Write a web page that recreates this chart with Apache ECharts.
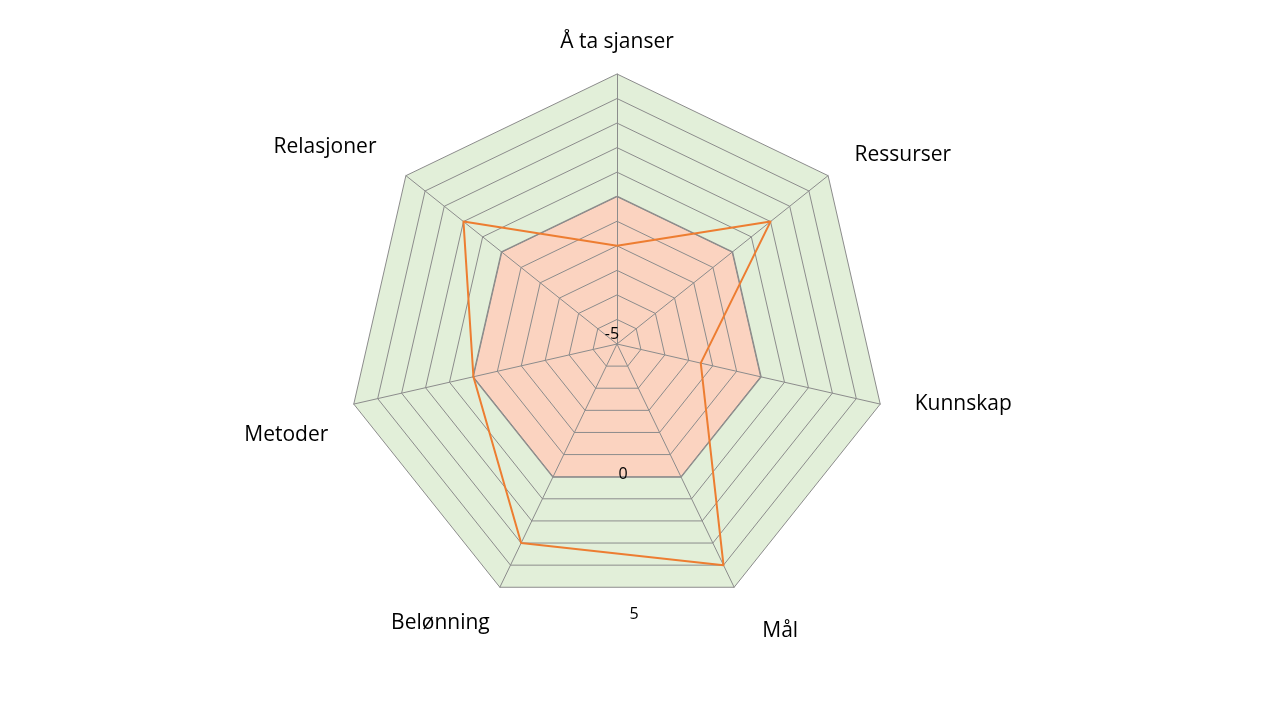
<!DOCTYPE html>
<html>
<head>
<meta charset="utf-8">
<script src="https://cdn.jsdelivr.net/npm/echarts@6/dist/echarts.min.js"></script>
<style>
html,body{margin:0;padding:0;background:#fff;}
#chart{width:1280px;height:720px;}
</style>
</head>
<body>
<div id="chart"></div>
<script>
// Categories in the reference's clockwise order, starting at the top
const categories = ['Å ta sjanser', 'Ressurser', 'Kunnskap', 'Mål', 'Belønning', 'Metoder', 'Relasjoner'];
// Orange line series
const scores = [-2, 2, -2.5, 4, 3, 0, 2];
// Filled zero-level series (salmon area with grey border)
const zeroLevel = [0, 0, 0, 0, 0, 0, 0];
// Outer filled band (green)
const outerLevel = [5, 5, 5, 5, 5, 5, 5];
// Axis scale
const axisMin = -6;
const axisMax = 5;
const tickLabels = [-5, 0, 5];

// Label nudges (style only), same order as categories: [top, right, bottom, left] padding
const namePadding = [
  [0, 0, 0, 0],
  [0, 0, 16, 10],
  [0, 0, 9, 14],
  [49, 0, 0, 19],
  [33, 1, 0, 0],
  [53, 5, 0, 0],
  [0, 13, 32, 0]
];

// ECharts radar runs counter-clockwise; reorder so the picture reads clockwise
const order = [0].concat(categories.map((_, i) => i).slice(1).reverse());
const pick = arr => order.map(i => arr[i]);

const FONT = 'Open Sans';
const rich = {};
categories.forEach((c, i) => {
  rich['n' + i] = {fontSize: 21, fontFamily: FONT, color: '#000000', padding: namePadding[i]};
});

const chart = echarts.init(document.getElementById('chart'), null, {renderer: 'canvas'});

chart.setOption({
  animation: false,
  backgroundColor: '#ffffff',
  textStyle: {fontFamily: FONT},
  radar: {
    center: [617, 344],
    radius: 270,
    startAngle: 90,
    splitNumber: axisMax - axisMin,
    shape: 'polygon',
    z: 0,
    indicator: pick(categories).map(n => ({name: n, min: axisMin, max: axisMax})),
    axisName: {
      color: '#000000', fontSize: 21, fontFamily: FONT,
      formatter: function (name) {
        const i = categories.indexOf(name);
        return '{n' + i + '|' + name + '}';
      },
      rich: rich
    },
    nameGap: 21,
    axisLine: {lineStyle: {color: '#8c8c8c', width: 1}},
    splitLine: {lineStyle: {color: '#8c8c8c', width: 1}},
    splitArea: {show: false}
  },
  polar: {center: [612, 334], radius: 281},
  angleAxis: {show: false, startAngle: -85.5, min: 0, max: 360},
  radiusAxis: {
    min: tickLabels[0],
    max: tickLabels[tickLabels.length - 1],
    interval: tickLabels[1] - tickLabels[0],
    axisLine: {show: false},
    axisTick: {show: false},
    splitLine: {show: false},
    axisLabel: {
      show: true, margin: 0, color: '#000000', fontSize: 16, fontFamily: FONT,
      align: 'center', verticalAlign: 'middle'
    },
    z: 5
  },
  series: [
    {
      type: 'radar', z: -2, silent: true, symbol: 'none',
      lineStyle: {width: 0, color: '#e2efd9'},
      areaStyle: {color: '#e2efd9', opacity: 1},
      data: [{value: pick(outerLevel), name: 'outer'}]
    },
    {
      type: 'radar', z: -1, silent: true, symbol: 'none',
      lineStyle: {width: 2.2, color: '#8a8a8a'},
      areaStyle: {color: '#fbd3c0', opacity: 1},
      data: [{value: pick(zeroLevel), name: 'zero'}]
    },
    {
      type: 'radar', z: 3, silent: true, symbol: 'none',
      lineStyle: {width: 2, color: '#ed7d31'},
      data: [{value: pick(scores), name: 'score'}]
    }
  ]
});
</script>
</body>
</html>
